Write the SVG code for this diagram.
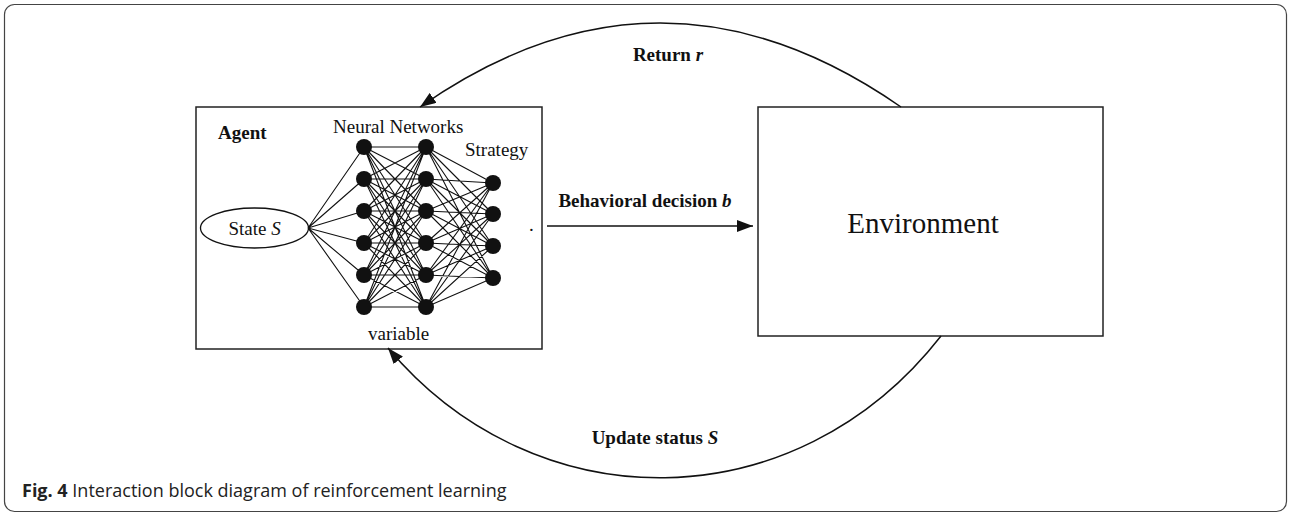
<svg xmlns="http://www.w3.org/2000/svg" width="1291" height="516" viewBox="0 0 1291 516">
<defs>
<style>
.box{fill:#fff;stroke:#222;stroke-width:1.5}
.t{font-family:"Liberation Serif","Times New Roman",serif;font-size:19px;fill:#111}
.b{font-weight:bold}
.i{font-style:italic}
.net{fill:none;stroke:#111;stroke-width:1.1}
.n{fill:#111}
.conn{fill:none;stroke:#111;stroke-width:1.5}
.cap{font-family:"Open Sans","Liberation Sans",sans-serif;font-size:18px;fill:#222}
</style>
<marker id="ah" viewBox="0 0 16 12" refX="16" refY="6" markerWidth="16" markerHeight="12" markerUnits="userSpaceOnUse" orient="auto">
<path d="M0,0 L16,6 L0,12 Z" fill="#111"/>
</marker>
</defs>
<rect x="4.5" y="4.5" width="1282" height="507" rx="10" ry="10" fill="#fff" stroke="#444" stroke-width="1.2"/>

<g id="agent">
<rect class="box" x="196" y="107" width="346" height="242"/>
<text class="t b" x="218" y="139">Agent</text>
<text class="t" x="333" y="133">Neural Networks</text>
<text class="t" x="465" y="156">Strategy</text>
<text class="t" x="368" y="340">variable</text>
<text class="t" x="529" y="231">.</text>
</g>

<g id="state">
<ellipse cx="254.5" cy="228" rx="54" ry="20" fill="#fff" stroke="#111" stroke-width="1.3"/>
<text class="t" x="254.5" y="235" text-anchor="middle">State <tspan class="i">S</tspan></text>
</g>

<g id="network">
<path class="net" d="M308,228L364,147M308,228L364,179M308,228L364,211M308,228L364,243M308,228L364,275M308,228L364,307"/>
<path class="net" d="M364,147L426,147M364,147L426,179M364,147L426,211M364,147L426,243M364,147L426,275M364,147L426,307
M364,179L426,147M364,179L426,179M364,179L426,211M364,179L426,243M364,179L426,275M364,179L426,307
M364,211L426,147M364,211L426,179M364,211L426,211M364,211L426,243M364,211L426,275M364,211L426,307
M364,243L426,147M364,243L426,179M364,243L426,211M364,243L426,243M364,243L426,275M364,243L426,307
M364,275L426,147M364,275L426,179M364,275L426,211M364,275L426,243M364,275L426,275M364,275L426,307
M364,307L426,147M364,307L426,179M364,307L426,211M364,307L426,243M364,307L426,275M364,307L426,307"/>
<path class="net" d="M426,147L493,183M426,147L493,214M426,147L493,246M426,147L493,278
M426,179L493,183M426,179L493,214M426,179L493,246M426,179L493,278
M426,211L493,183M426,211L493,214M426,211L493,246M426,211L493,278
M426,243L493,183M426,243L493,214M426,243L493,246M426,243L493,278
M426,275L493,183M426,275L493,214M426,275L493,246M426,275L493,278
M426,307L493,183M426,307L493,214M426,307L493,246M426,307L493,278"/>
<g class="n">
<circle cx="364" cy="147" r="8"/><circle cx="364" cy="179" r="8"/><circle cx="364" cy="211" r="8"/><circle cx="364" cy="243" r="8"/><circle cx="364" cy="275" r="8"/><circle cx="364" cy="307" r="8"/>
<circle cx="426" cy="147" r="8"/><circle cx="426" cy="179" r="8"/><circle cx="426" cy="211" r="8"/><circle cx="426" cy="243" r="8"/><circle cx="426" cy="275" r="8"/><circle cx="426" cy="307" r="8"/>
<circle cx="493" cy="183" r="8"/><circle cx="493" cy="214" r="8"/><circle cx="493" cy="246" r="8"/><circle cx="493" cy="278" r="8"/>
</g>
</g>

<g id="environment">
<rect class="box" x="758" y="107" width="345" height="229"/>
<text class="t" x="923" y="233" text-anchor="middle" style="font-size:29px">Environment</text>
</g>

<g id="connectors">
<path class="conn" d="M901,107 C740,-5 580,-5 420,107" marker-end="url(#ah)"/>
<path class="conn" d="M547,226 L753,226" marker-end="url(#ah)"/>
<path class="conn" d="M941,336 C795,523 535,523 388,348" marker-end="url(#ah)"/>
<text class="t b" x="668" y="61" text-anchor="middle">Return <tspan class="i">r</tspan></text>
<text class="t b" x="645" y="207" text-anchor="middle">Behavioral decision <tspan class="i">b</tspan></text>
<text class="t b" x="655" y="444" text-anchor="middle">Update status <tspan class="i">S</tspan></text>
</g>

<text class="cap" x="22" y="497"><tspan font-weight="bold">Fig. 4</tspan> Interaction block diagram of reinforcement learning</text>
</svg>
